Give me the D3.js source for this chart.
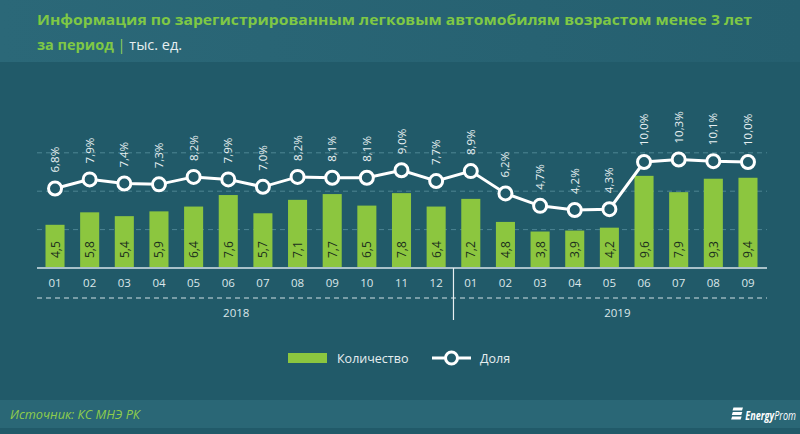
<!DOCTYPE html>
<html><head><meta charset="utf-8">
<script src="https://cdn.jsdelivr.net/npm/d3@7"></script>
<style>
html,body{margin:0;padding:0;background:#215a69;}
svg{display:block;}
</style></head>
<body>
<script>
const months = ["01","02","03","04","05","06","07","08","09","10","11","12","01","02","03","04","05","06","07","08","09"];
const years = ["2018","2019"];
const yearCounts = [12, 9];
const quantity = [4.5,5.8,5.4,5.9,6.4,7.6,5.7,7.1,7.7,6.5,7.8,6.4,7.2,4.8,3.8,3.9,4.2,9.6,7.9,9.3,9.4];
const share = [6.8,7.9,7.4,7.3,8.2,7.9,7.0,8.2,8.1,8.1,9.0,7.7,8.9,6.2,4.7,4.2,4.3,10.0,10.3,10.1,10.0];
const gridTicks = [4, 8, 12];
const fmt = v => v.toFixed(1).replace(".", ",");

const W = 800, H = 434;
const svg = d3.select("body").append("svg").attr("width", W).attr("height", H);

// backgrounds
svg.append("rect").attr("width", W).attr("height", H).attr("fill", "#215a69");
const hg = svg.append("defs").append("linearGradient").attr("id","hg").attr("x1",0).attr("x2",1);
hg.append("stop").attr("offset","0%").attr("stop-color","#2b6878");
hg.append("stop").attr("offset","100%").attr("stop-color","#255f6f");
svg.append("rect").attr("width", W).attr("height", 62).attr("fill", "url(#hg)");
svg.append("rect").attr("y", 400).attr("width", W).attr("height", 28).attr("fill", "#2a6776");

// title
svg.append("text").attr("x", 37).attr("y", 25)
  .attr("font-family", "Open Sans").attr("font-weight", "bold").attr("font-size", 14.5)
  .attr("fill", "#7fc845").attr("textLength", 715).attr("lengthAdjust","spacingAndGlyphs")
  .text("Информация по зарегистрированным легковым автомобилям возрастом менее 3 лет");
const t2 = svg.append("text").attr("x", 37).attr("y", 50)
  .attr("font-family", "Open Sans").attr("font-size", 14.5);
t2.append("tspan").attr("font-weight","bold").attr("fill","#7fc845").text("за период ");
t2.append("tspan").attr("fill","#8fcf5a").text("| ");
t2.append("tspan").attr("fill","#e6eef0").text("тыс. ед.");

// scales
const x = d3.scaleBand().domain(d3.range(months.length)).range([37.7, 765.3]).paddingInner(0.45).paddingOuter(0.225);
const y = d3.scaleLinear().domain([0, 14]).range([268, 133.6]);
const y2 = d3.scaleLinear().domain([4.2, 10]).range([210, 162]);
const cx = i => x(i) + x.bandwidth() / 2;

// gridlines
svg.append("g").selectAll("line").data(gridTicks).join("line")
  .attr("x1", 37).attr("x2", 767).attr("y1", d => y(d)).attr("y2", d => y(d))
  .attr("stroke", "#4d8593").attr("stroke-width", 1).attr("stroke-dasharray", "5,4");

// bars
svg.append("g").selectAll("rect").data(quantity).join("rect")
  .attr("x", (d, i) => x(i)).attr("width", x.bandwidth())
  .attr("y", d => y(d)).attr("height", d => y(0) - y(d))
  .attr("fill", "#8cc63f");

// bar labels
svg.append("g").selectAll("text").data(quantity).join("text")
  .attr("transform", (d, i) => `translate(${cx(i) + 4.5},${y(0) - 10}) rotate(-90)`)
  .attr("font-family", "Open Sans").attr("font-size", 12).attr("fill", "#1a2e1c")
  .text(d => fmt(d));

// baseline axis
const xAxis = d3.axisBottom(x).tickSize(0).tickPadding(11).tickFormat(i => months[i]);
const ax = svg.append("g").attr("transform", `translate(0,${y(0)})`).call(xAxis);
ax.select(".domain").attr("stroke", "#a9c1c9").attr("stroke-width", 2).attr("d", "M37,0H767");
ax.selectAll("text").attr("font-family", "Open Sans").attr("font-size", 11.5).attr("fill", "#dbe7ea");

// dashed line under months
svg.append("line").attr("x1", 37).attr("x2", 767).attr("y1", 298).attr("y2", 298)
  .attr("stroke", "#cfe0e5").attr("stroke-width", 1.2).attr("stroke-dasharray", "5,4");

// separator
const sepX = (x(yearCounts[0] - 1) + x.bandwidth() + x(yearCounts[0])) / 2;
svg.append("line").attr("x1", sepX).attr("x2", sepX).attr("y1", 268).attr("y2", 320)
  .attr("stroke", "#e8f0f2").attr("stroke-width", 1.2);

// year labels
const yearIdx = [5, 16];
svg.append("g").selectAll("text").data(years).join("text")
  .attr("x", (d, i) => cx(yearIdx[i]) + 8).attr("y", 317)
  .attr("text-anchor", "middle").attr("font-family", "Open Sans").attr("font-size", 11.5)
  .attr("fill", "#dbe7ea").text(d => d);

// line
const line = d3.line().x((d, i) => cx(i)).y(d => y2(d));
svg.append("path").datum(share).attr("d", line).attr("fill", "none")
  .attr("stroke", "#ffffff").attr("stroke-width", 3);
svg.append("g").selectAll("circle").data(share).join("circle")
  .attr("cx", (d, i) => cx(i)).attr("cy", d => y2(d)).attr("r", 6.5)
  .attr("fill", "#215a69").attr("stroke", "#ffffff").attr("stroke-width", 3);

// share labels
svg.append("g").selectAll("text").data(share).join("text")
  .attr("transform", (d, i) => `translate(${cx(i) + 4},${y2(d) - 16}) rotate(-90)`)
  .attr("font-family", "Open Sans").attr("font-size", 11.5).attr("fill", "#e8f0f2")
  .text(d => fmt(d) + "%");

// legend
const lg = svg.append("g");
lg.append("rect").attr("x", 288).attr("y", 353).attr("width", 39).attr("height", 10).attr("fill", "#8cc63f");
lg.append("text").attr("x", 337).attr("y", 362.5).attr("font-family", "Open Sans").attr("font-size", 12.5)
  .attr("fill", "#e6eef0").text("Количество");
lg.append("line").attr("x1", 432).attr("x2", 471).attr("y1", 358).attr("y2", 358).attr("stroke", "#fff").attr("stroke-width", 3);
lg.append("circle").attr("cx", 451.5).attr("cy", 358).attr("r", 6).attr("fill", "#215a69").attr("stroke", "#fff").attr("stroke-width", 3);
lg.append("text").attr("x", 480).attr("y", 362.5).attr("font-family", "Open Sans").attr("font-size", 12.5)
  .attr("fill", "#e6eef0").text("Доля");

// footer
svg.append("text").attr("x", 10).attr("y", 419).attr("font-family", "Open Sans").attr("font-style", "italic")
  .attr("font-size", 12).attr("fill", "#8fcd4c").attr("textLength", 130).attr("lengthAdjust","spacingAndGlyphs")
  .text("Источник: КС МНЭ РК");
const logo = svg.append("g");
[0, 4.5, 9].forEach((dy, k) => {
  logo.append("path").attr("d", `M${733.5 - k*0.7},${407.5 + dy}h9.5l-1,3h-9.5z`).attr("fill", "#ffffff");
});
const lt = logo.append("text").attr("transform", "translate(796,419.5) scale(0.7,1)")
  .attr("text-anchor", "end").attr("font-family", "Open Sans")
  .attr("font-style", "italic").attr("font-size", 13).attr("fill", "#ffffff");
lt.append("tspan").attr("font-weight", "bold").text("Energy");
lt.append("tspan").text("Prom");
</script>
</body></html>
